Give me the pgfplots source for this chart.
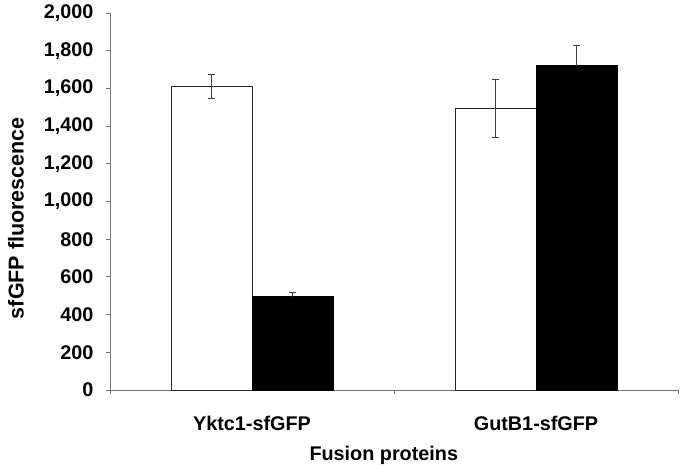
\documentclass[border=0pt]{standalone}
\usepackage{pgfplots}
\pgfplotsset{compat=1.18}
\usepackage{fontspec}
\setmainfont{Liberation Sans}
\pgfplotstableread{
x  y     err
0  1609  63
1  1494  156
}\whitedata
\pgfplotstableread{
x  y     err
0  495   23
1  1720  107
}\blackdata
\begin{document}
\begin{tikzpicture}
\useasboundingbox (-110bp,-82bp) rectangle (575bp,390bp);
\begin{axis}[
  at={(0,0)}, anchor=south west,
  scale only axis,
  width=568bp, height=377bp,
  xmin=-0.5, xmax=1.5,
  ymin=0, ymax=2000,
  axis lines*=left,
  axis line style={gray!90!black, line width=0.9bp},
  every tick/.style={gray!90!black, line width=0.9bp},
  tick align=outside,
  major tick length=4bp,
  ytick={0,200,...,2000},
  xtick={-0.5,0.5,1.5},
  x tick label as interval,
  xticklabels={Yktc1-sfGFP, GutB1-sfGFP},
  /pgf/number format/1000 sep={,},
  /pgf/number format/assume math mode=true,
  font=\fontsize{19.8bp}{23bp}\selectfont\bfseries,
  yticklabel style={font=\fontsize{19.8bp}{23bp}\selectfont\bfseries, xshift=-9bp},
  xticklabel style={font=\fontsize{19.8bp}{23bp}\selectfont\bfseries, anchor=center, yshift=-29bp},
  xlabel={Fusion proteins},
  ylabel={sfGFP fluorescence},
  xlabel style={at={(axis description cs:0.482,-0.1724)}, anchor=center},
  ylabel style={font=\fontsize{21.5bp}{24bp}\selectfont\bfseries, at={(axis description cs:-0.1655,0.456)}, anchor=center},
  ybar, bar width=0.2852,
  clip=false,
]
\addplot[fill=white, draw=black!85, line width=0.9bp, bar shift=-0.1426,
  error bars/.cd, y dir=both, y explicit,
  error bar style={black!75, line width=0.9bp},
  error mark options={rotate=90, black!75, mark size=3.2bp, line width=0.9bp}]
  table[x=x, y=y, y error=err] {\whitedata};
\addplot[fill=black, draw=black, line width=0.9bp, bar shift=0.1426,
  error bars/.cd, y dir=plus, y explicit,
  error bar style={black!75, line width=0.9bp},
  error mark options={rotate=90, black!75, mark size=3.2bp, line width=0.9bp}]
  table[x=x, y=y, y error=err] {\blackdata};
\end{axis}
\end{tikzpicture}
\end{document}
